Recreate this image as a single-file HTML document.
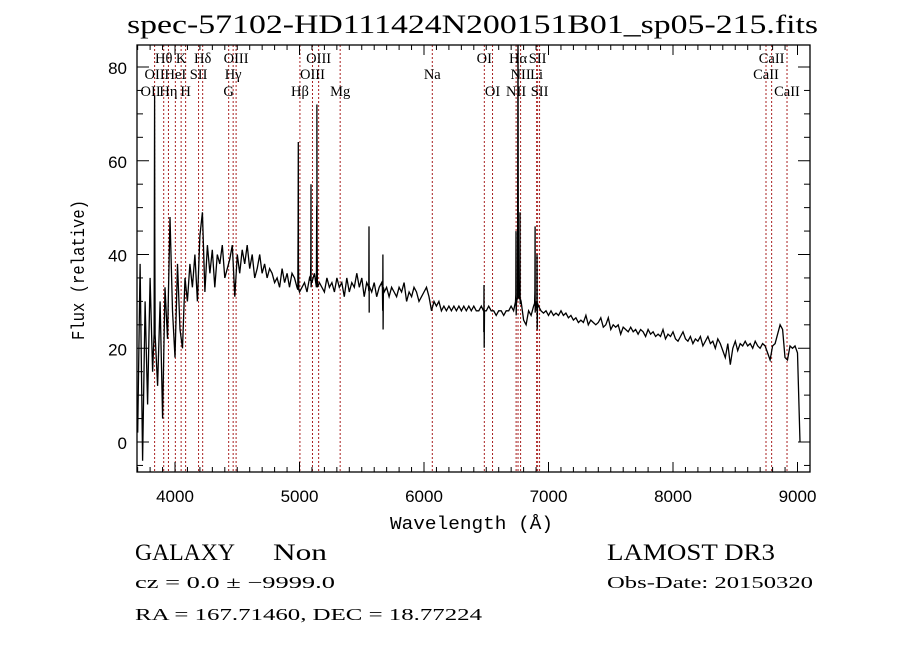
<!DOCTYPE html>
<html><head><meta charset="utf-8">
<style>
html,body{margin:0;padding:0;background:#fff;}
svg{display:block;}
</style></head>
<body>
<svg id="chart" width="900" height="649" viewBox="0 0 900 649" xmlns="http://www.w3.org/2000/svg">
<rect x="0" y="0" width="900" height="649" fill="#fff"/>
<text x="127" y="33" font-family="Liberation Serif, serif" font-size="26" textLength="691" lengthAdjust="spacingAndGlyphs">spec-57102-HD111424N200151B01_sp05-215.fits</text>
<defs><clipPath id="plotclip"><rect x="137" y="45" width="673" height="427"/></clipPath></defs>
<g id="lines-layer"></g>
<g id="labels-layer"></g>
<g id="data-layer" clip-path="url(#plotclip)"></g>
<g id="axes-layer"></g>
<text x="390" y="529" font-family="Liberation Mono, monospace" font-size="18" textLength="163" lengthAdjust="spacingAndGlyphs">Wavelength (Å)</text>
<text transform="translate(84,340) rotate(-90)" font-family="Liberation Mono, monospace" font-size="18" textLength="140" lengthAdjust="spacingAndGlyphs">Flux (relative)</text>
<text x="135" y="560" font-family="Liberation Serif, serif" font-size="23" textLength="100" lengthAdjust="spacingAndGlyphs">GALAXY</text>
<text x="273" y="560" font-family="Liberation Serif, serif" font-size="23" textLength="54" lengthAdjust="spacingAndGlyphs">Non</text>
<text x="135" y="588" font-family="Liberation Serif, serif" font-size="17" textLength="200" lengthAdjust="spacingAndGlyphs">cz = 0.0 ± −9999.0</text>
<text x="135" y="620" font-family="Liberation Serif, serif" font-size="17" textLength="347" lengthAdjust="spacingAndGlyphs">RA = 167.71460, DEC =  18.77224</text>
<text x="607" y="560" font-family="Liberation Serif, serif" font-size="23" textLength="168" lengthAdjust="spacingAndGlyphs">LAMOST DR3</text>
<text x="607" y="588" font-family="Liberation Serif, serif" font-size="17" textLength="206" lengthAdjust="spacingAndGlyphs">Obs-Date: 20150320</text>
</svg>
<script>
// ---- data ----
const wlStart = 3700;
const wlStep = 20;
const fluxValues = [
2,38,-4,30,8,35,15,25,12,30,5,33,22,48,28,18,38,24,20,35,
30,38,33,40,30,44,49,32,42,36,41,33,40,38,42,35,37,39,42,31,
40,36,41,38,42,37,40,35,37,40,36,38,35,37,36,34,35,33,37,34,
36,33,36,35,33,32,33,34,32,35,34,36,33,34,33,32,35,33,34,32,
35,33,34,31,35,32,34,33,36,33,35,31,34,33,32,34,31,33,34,32,
33,31,33,32,31,33,32,34,30,32,31,33,32,30,31,32,33,31,28,30,
29,30,28,29,28,29,28,29,28,29,28,29,28,29,28,29,28,28,29,28,
28,29,28,28,27,28,28,27,28,28,29,28,30,31,30,26,25,28,27,29,
30,29,28,27.5,28,27,28,27,27.5,27,28,27,27.5,26.5,27,26,26.5,25.5,26,25.5,
27,25,26,25.5,25,25.5,26.5,24.5,25,26.5,24,25,24.5,25,23,24.5,24,23.5,24.5,23.5,
24,23,24,23.5,22.5,24,23,23.5,22.5,23,22.5,24,22,23,22.5,23.5,22,21.5,22.5,23.5,
22,21.5,22.5,21,22,21.5,22.5,20.5,21.5,22.5,21,21.5,20,22,21,19.5,18,21,16.5,20,
21.5,19.5,21,20.5,21.5,20.5,21,20,21.5,20.5,20,21,20.5,19,17.5,20.5,21,23,25,24,
18,17.5,20.5,20,20.5,19,0
];
const emissionWl = [3836, 4990, 5092, 5140, 5558, 5670, 6482, 6739, 6755, 6771, 6892, 6908];
const emissionPeak = [74, 64, 55, 72, 46, 40, 33.5, 45, 95, 49, 46, 40];
const lineRest = [3727,3798,3835,3889,3934,3969,4070,4102,4305,4340,4363,4861,4959,5007,5175,5894,6300,6364,6548,6563,6583,6708,6716,6731,8498,8542,8662];
const lineName = ["OII","Hθ","Hη","HeI","K","H","SII","Hδ","G","Hγ","OIII","Hβ","OIII","OIII","Mg","Na","OI","OI","NII","Hα","NII","Li","SII","SII","CaII","CaII","CaII"];
const lineRow = [2,1,3,2,1,3,2,1,3,2,1,3,2,1,3,2,1,3,3,1,2,2,1,3,2,1,3];
const redshift = 0.0293;
const xTicks = [4000,5000,6000,7000,8000,9000];
const yTicks = [0,20,40,60,80];
const secondOIIRowLabel = "OII";

// ---- axes functions ----
const X0=137, X1=810, Y0=45, Y1=472;
function xs(w){ return 175 + (w-4000)*0.1245; }
function ys(f){ return 442 - f*4.6875; }
const NS="http://www.w3.org/2000/svg";
function mk(tag, attrs, parent){
  const e=document.createElementNS(NS,tag);
  for(const k in attrs) e.setAttribute(k, attrs[k]);
  parent.appendChild(e); return e;
}

// ---- line markers ----
const LL=document.getElementById('lines-layer');
const LB=document.getElementById('labels-layer');
const rowY=[0,63,79,96];
lineRest.forEach((r,i)=>{
  const x=xs(r*(1+redshift));
  const ln=mk('line',{x1:x,x2:x,y1:Y0,y2:Y1,stroke:'#a82020','stroke-width':1,'stroke-dasharray':'2,2'},LL);
  
  
  const t=mk('text',{x:x,y:rowY[lineRow[i]],'text-anchor':'middle','font-family':'Liberation Serif, serif','font-size':14.5},LB);
  t.textContent=lineName[i];
  
  
});
{
  const x=xs(3727*(1+redshift));
  const t=mk('text',{x:x-4,y:rowY[3],'text-anchor':'middle','font-family':'Liberation Serif, serif','font-size':14.5},LB);
  t.textContent=secondOIIRowLabel;
  
  
}

// ---- spectrum ----
const pts=[];
fluxValues.forEach((f,i)=>{ pts.push([wlStart+i*wlStep, f]); });
function contAt(w){
  const i=Math.max(0,Math.min(fluxValues.length-2,Math.floor((w-wlStart)/wlStep)));
  const t=(w-(wlStart+i*wlStep))/wlStep;
  return fluxValues[i]*(1-t)+fluxValues[i+1]*t;
}
emissionWl.forEach((w,i)=>{
  const c=contAt(w);
  pts.push([w-4,c],[w-1.5,emissionPeak[i]*0.7],[w,emissionPeak[i]],[w+1.5,emissionPeak[i]*0.6],[w+4,c]);
});
pts.sort((a,b)=>a[0]-b[0]);
const DL=document.getElementById('data-layer');
const d=pts.map((p,i)=>(i?'L':'M')+xs(p[0]).toFixed(1)+','+ys(p[1]).toFixed(1)).join(' ');
const path=mk('path',{d:d,fill:'none',stroke:'#000','stroke-width':1.3,'stroke-linejoin':'miter'},DL);



// ---- axes ----
const AX=document.getElementById('axes-layer');
const box=mk('rect',{x:X0,y:Y0,width:X1-X0,height:Y1-Y0,fill:'none',stroke:'#000','stroke-width':1.3},AX);


for(let w=3700; w<=9100; w+=100){
  const x=xs(w); if(x<X0||x>X1) continue;
  const major = (w%1000===0);
  const L = major?10:5;
  mk('line',{x1:x,x2:x,y1:Y1,y2:Y1-L,stroke:'#000','stroke-width':1},AX);
  mk('line',{x1:x,x2:x,y1:Y0,y2:Y0+L,stroke:'#000','stroke-width':1},AX);
}
xTicks.forEach(v=>{
  const t=mk('text',{x:xs(v),y:502,'text-anchor':'middle','font-family':'Liberation Sans, sans-serif','font-size':17},AX);
  t.textContent=v;
  
  
});
for(let f=-5; f<=85; f+=5){
  const y=ys(f); if(y<Y0||y>Y1) continue;
  const L=(f%20===0)?12:6;
  mk('line',{x1:X0,x2:X0+L,y1:y,y2:y,stroke:'#000','stroke-width':1},AX);
  mk('line',{x1:X1,x2:X1-L,y1:y,y2:y,stroke:'#000','stroke-width':1},AX);
}
yTicks.forEach(v=>{
  const t=mk('text',{x:127,y:ys(v)+7,'text-anchor':'end','font-family':'Liberation Sans, sans-serif','font-size':17},AX);
  t.textContent=v;
  
  
});
</script>
</body></html>
